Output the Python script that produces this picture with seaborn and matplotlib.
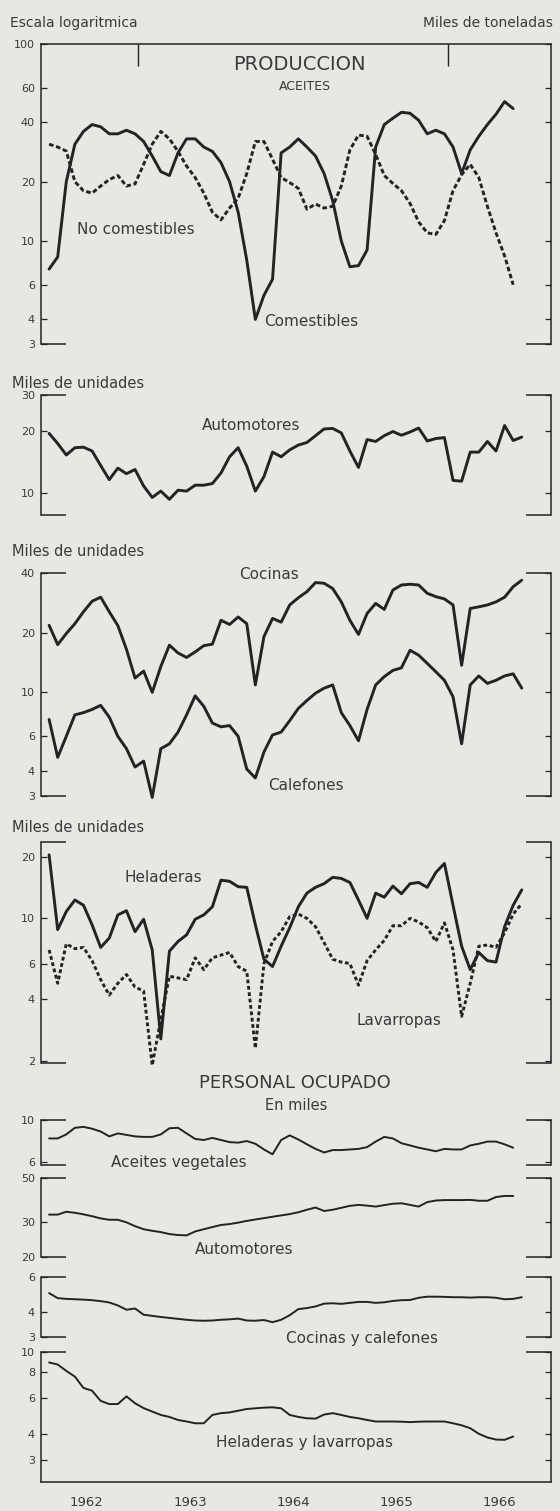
import numpy as np
import pandas as pd
import matplotlib
matplotlib.use("Agg")
import matplotlib.pyplot as plt
import matplotlib.ticker as mticker
import seaborn as sns

# ---------------- data (monthly observations, first one early 1962) ----------------
start_month = 1.6          # months after 1 Jan 1962 of the first observation
years = ["1962", "1963", "1964", "1965", "1966"]

# Produccion de aceites (miles de toneladas)
aceites_comestibles = [7.2, 8.3, 20, 31, 36, 39, 38, 35, 35, 36.5,
                       35, 32, 27, 22.5, 21.5, 28, 33, 33, 30, 28.5,
                       25, 20, 14, 8, 4.0, 5.3, 6.4, 28, 30, 33,
                       30, 27, 22, 16, 10, 7.4, 7.5, 9, 30, 39,
                       42, 45, 44.5, 41, 35, 36.5, 35, 30, 22, 29,
                       34, 39, 44, 51, 47]
aceites_no_comestibles = [31, 30, 28.6, 20, 18, 17.5, 19, 20.5, 21.5, 19,
                          19.5, 24.5, 31, 36, 33, 28.5, 24, 21, 17.5, 14,
                          12.8, 14.7, 16.5, 22, 32, 32, 26, 21, 19.8, 18.5,
                          14.5, 15.4, 14.7, 15, 19, 29, 34.5, 34, 27.5, 21.5,
                          19.6, 18, 15.5, 12.5, 11, 10.8, 12.7, 18, 21.7, 24.5,
                          21, 15, 11, 8.4, 6.0]
# Produccion (miles de unidades)
automotores = [19.5, 17.4, 15.3, 16.6, 16.7, 16, 13.6, 11.6, 13.2, 12.4,
               13, 10.8, 9.5, 10.2, 9.3, 10.3, 10.2, 10.9, 10.9, 11.1,
               12.5, 15, 16.6, 13.5, 10.2, 12, 15.8, 15, 16.2, 17.1,
               17.6, 19, 20.5, 20.6, 19.6, 16, 13.3, 18.2, 17.8, 19,
               19.9, 19.1, 19.8, 20.7, 17.9, 18.4, 18.6, 11.5, 11.4, 15.8,
               15.8, 17.8, 16, 21.3, 18, 18.7]
cocinas = [21.8, 17.4, 19.8, 22.2, 25.5, 28.8, 30.2, 25.5, 21.7, 16.5,
           11.8, 12.8, 10.0, 13.5, 17.3, 15.8, 15.0, 16.0, 17.2, 17.5,
           23.1, 22.0, 24, 22.2, 10.9, 19.1, 23.6, 22.6, 27.6, 30,
           32.2, 35.8, 35.5, 33.4, 28.6, 23.1, 19.6, 25, 28.1, 26.2,
           32.8, 34.8, 35.1, 34.8, 31.6, 30.4, 29.6, 27.6, 13.7, 26.5,
           27.0, 27.6, 28.6, 30.2, 34.1, 36.8]
calefones = [7.3, 4.7, 6.0, 7.7, 7.9, 8.2, 8.6, 7.5, 6.0, 5.2,
             4.2, 4.5, 2.95, 5.2, 5.5, 6.3, 7.7, 9.6, 8.5, 7.0,
             6.7, 6.8, 6.0, 4.1, 3.7, 5.0, 6.1, 6.3, 7.2, 8.3,
             9.1, 9.9, 10.5, 10.9, 7.9, 6.8, 5.7, 8.2, 10.9, 12.0,
             12.9, 13.3, 16.3, 15.4, 14.0, 12.7, 11.5, 9.5, 5.5, 10.9,
             12.1, 11.1, 11.5, 12.1, 12.4, 10.5]
heladeras = [20.5, 8.8, 10.8, 12.3, 11.6, 9.3, 7.2, 8.0, 10.4, 10.9,
             8.6, 9.9, 7.0, 2.56, 6.9, 7.7, 8.3, 9.9, 10.4, 11.4,
             15.4, 15.2, 14.3, 14.2, 9.3, 6.3, 5.8, 7.3, 9.0, 11.4,
             13.3, 14.2, 14.8, 15.9, 15.7, 15.0, 12.3, 10.0, 13.3, 12.7,
             14.4, 13.2, 14.8, 15.0, 14.2, 16.8, 18.6, 11.6, 7.3, 5.6,
             6.8, 6.2, 6.1, 9.1, 11.6, 13.8]
lavarropas = [7.0, 4.8, 7.5, 7.1, 7.2, 6.2, 5.0, 4.2, 4.8, 5.3,
              4.6, 4.4, 1.9, 3.2, 5.2, 5.1, 5.0, 6.4, 5.6, 6.4,
              6.6, 6.8, 5.8, 5.5, 2.3, 6.0, 7.7, 8.6, 10.2, 10.5,
              10.0, 9.1, 7.6, 6.3, 6.1, 6.0, 4.7, 6.2, 7.0, 7.8,
              9.2, 9.2, 10.0, 9.6, 9.0, 7.7, 9.5, 7.0, 3.3, 4.8,
              7.3, 7.4, 7.2, 8.5, 10.5, 11.8]
# Personal ocupado (miles)
pers_aceites = [8.0, 8.0, 8.4, 9.1, 9.2, 9.0, 8.7, 8.2, 8.5, 8.35,
                8.2, 8.15, 8.15, 8.4, 9.05, 9.1, 8.5, 7.95, 7.85, 8.05,
                7.85, 7.65, 7.6, 7.75, 7.5, 7.0, 6.6, 7.85, 8.3, 7.9,
                7.45, 7.05, 6.75, 6.95, 6.95, 7.0, 7.05, 7.2, 7.7, 8.15,
                8.0, 7.55, 7.35, 7.15, 7.0, 6.85, 7.05, 7.0, 7.0, 7.35,
                7.5, 7.7, 7.7, 7.45, 7.15]
pers_automotores = [32.7, 32.7, 33.8, 33.4, 32.8, 32.1, 31.3, 30.8, 30.8, 29.9,
                    28.6, 27.6, 27.1, 26.7, 26.1, 25.8, 25.7, 26.9, 27.6, 28.3,
                    29.0, 29.3, 29.8, 30.4, 30.9, 31.4, 31.9, 32.4, 32.9, 33.6,
                    34.6, 35.5, 34.1, 34.6, 35.4, 36.2, 36.6, 36.3, 35.9, 36.5,
                    37.1, 37.3, 36.6, 35.9, 37.8, 38.5, 38.7, 38.7, 38.7, 38.8,
                    38.4, 38.4, 40.1, 40.6, 40.6]
pers_cocinas_calefones = [4.98, 4.70, 4.66, 4.64, 4.62, 4.59, 4.54, 4.47, 4.32, 4.11,
                          4.17, 3.88, 3.83, 3.78, 3.74, 3.70, 3.66, 3.63, 3.62, 3.63,
                          3.66, 3.68, 3.71, 3.63, 3.62, 3.65, 3.56, 3.66, 3.86, 4.14,
                          4.19, 4.27, 4.41, 4.43, 4.40, 4.45, 4.50, 4.50, 4.45, 4.48,
                          4.55, 4.59, 4.60, 4.72, 4.78, 4.78, 4.77, 4.75, 4.75, 4.73,
                          4.75, 4.75, 4.72, 4.64, 4.66, 4.75]
pers_heladeras_lavarropas = [8.9, 8.7, 8.1, 7.6, 6.7, 6.5, 5.8, 5.6, 5.6, 6.1,
                             5.65, 5.35, 5.15, 4.96, 4.85, 4.69, 4.61, 4.52, 4.52, 4.96,
                             5.06, 5.1, 5.2, 5.3, 5.34, 5.38, 5.4, 5.34, 4.96, 4.85,
                             4.78, 4.76, 4.98, 5.06, 4.96, 4.85, 4.78, 4.69, 4.61, 4.61,
                             4.61, 4.6, 4.58, 4.6, 4.61, 4.61, 4.61, 4.52, 4.42, 4.28,
                             4.02, 3.86, 3.77, 3.76, 3.9]

# ---------------- style ----------------
sns.set_style("white")
plt.rcParams["font.family"] = ["DejaVu Sans"]

W, H = 560, 1511
fig = plt.figure(figsize=(W / 100, H / 100), dpi=100)
BG = "#e7e7e4"
INK = "#232323"
TXT = "#3a3a3a"
fig.patch.set_facecolor(BG)
XL, XR = 40.5, 551.0
STUB = 25 / (XR - XL)


def make_axes(top, bottom):
    ax = fig.add_axes([XL / W, 1 - bottom / H, (XR - XL) / W, (bottom - top) / H])
    ax.set_facecolor("none")
    return ax


def draw(ax, values, lw=2.0, ls="-"):
    df = pd.DataFrame({"mes": start_month + np.arange(len(values)), "valor": values})
    sns.lineplot(data=df, x="mes", y="valor", ax=ax, color=INK, lw=lw,
                 linestyle=ls, clip_on=False, solid_joinstyle="round")


def style(ax, ylim, ticks, top="stub", bottom="stub"):
    ax.set_yscale("log")
    ax.set_ylim(*ylim)
    ax.set_xlim(0.6, 60)
    ax.set_yticks(ticks, labels=[f"{t:g}" for t in ticks])
    ax.yaxis.set_minor_locator(mticker.NullLocator())
    ax.yaxis.set_minor_formatter(mticker.NullFormatter())
    ax.tick_params(axis="y", which="major", direction="in", length=4, width=0.9,
                   color=INK, left=True, right=True, labelleft=True,
                   labelright=False, labelsize=8, labelcolor=TXT, pad=4)
    ax.set_xlabel("")
    ax.set_ylabel("")
    for s in ["left", "right"]:
        ax.spines[s].set_visible(True)
        ax.spines[s].set_color(INK)
        ax.spines[s].set_linewidth(1.1)
    for s, mode, yy in [("top", top, 1), ("bottom", bottom, 0)]:
        if mode == "full":
            ax.spines[s].set_visible(True)
            ax.spines[s].set_color(INK)
            ax.spines[s].set_linewidth(1.1)
        else:
            ax.spines[s].set_visible(False)
            for x0, x1 in [(0, STUB), (1 - STUB, 1)]:
                ax.plot([x0, x1], [yy, yy], transform=ax.transAxes, color=INK,
                        lw=1.1, clip_on=False, solid_capstyle="butt")


def ftext(x, y, s, size, ha="left", **kw):
    fig.text(x / W, 1 - y / H, s, fontsize=size, ha=ha, va="center", color=TXT, **kw)


# ---- Panel 1: Aceites ----
ax1 = make_axes(44, 344)
draw(ax1, aceites_comestibles, lw=2.1)
draw(ax1, aceites_no_comestibles, lw=2.1, ls=(0, (1.6, 0.9)))
style(ax1, (3, 100), [3, 4, 6, 10, 20, 40, 60, 100], top="full")
ax1.xaxis.set_ticks_position("top")
ax1.set_xticks([12, 48])
ax1.tick_params(axis="x", direction="in", length=16, width=1.0, color=INK,
                labeltop=False, labelbottom=False)

# ---- Panel 2: Automotores ----
ax2 = make_axes(395, 515)
draw(ax2, automotores, lw=2.1)
style(ax2, (7.8, 30), [10, 20, 30])
ax2.set_xticks([])

# ---- Panel 3: Cocinas / Calefones ----
ax3 = make_axes(573, 796)
draw(ax3, cocinas, lw=2.1)
draw(ax3, calefones, lw=2.1)
style(ax3, (3, 40), [3, 4, 6, 10, 20, 40])
ax3.set_xticks([])

# ---- Panel 4: Heladeras / Lavarropas ----
ax4 = make_axes(842, 1063)
draw(ax4, heladeras, lw=2.1)
draw(ax4, lavarropas, lw=2.1, ls=(0, (1.3, 0.9)))
style(ax4, (1.95, 23.7), [2, 4, 6, 10, 20])
ax4.set_xticks([])

# ---- Panel 5-8: Personal ocupado ----
ax5 = make_axes(1120, 1165)
draw(ax5, pers_aceites, lw=1.4)
style(ax5, (5.8, 10), [6, 10])
ax5.set_xticks([])

ax6 = make_axes(1178, 1257)
draw(ax6, pers_automotores, lw=1.4)
style(ax6, (20, 50), [20, 30, 50])
ax6.set_xticks([])

ax7 = make_axes(1277, 1337)
draw(ax7, pers_cocinas_calefones, lw=1.4)
style(ax7, (3, 6), [3, 4, 6])
ax7.set_xticks([])

ax8 = make_axes(1352, 1482)
draw(ax8, pers_heladeras_lavarropas, lw=1.4)
style(ax8, (2.35, 10), [3, 4, 6, 8, 10], bottom="full")
ax8.set_xticks([12, 24, 36, 48])
ax8.set_xticks(np.arange(1, 60), minor=True)
ax8.tick_params(axis="x", which="major", direction="in", length=17, width=1.0,
                color=INK, labelbottom=False)
ax8.tick_params(axis="x", which="minor", direction="in", length=7, width=0.8,
                color=INK, labelbottom=False)
for i, yr in enumerate(years):
    ax8.text(6 + 12 * i, -20 / 130, yr, transform=ax8.get_xaxis_transform(),
             ha="center", va="center", fontsize=9.5, color=TXT)

# ---------------- texts ----------------
ftext(10, 23, "Escala logaritmica", 10)
ftext(553, 23, "Miles de toneladas", 10, ha="right")
ftext(299, 65, "PRODUCCION", 14)
fig.texts[-1].set_ha("center")
ftext(305, 86, "ACEITES", 9, ha="center")
ftext(77, 229, "No comestibles", 11)
ftext(264, 321, "Comestibles", 11)
ftext(12, 383, "Miles de unidades", 10.5)
ftext(202, 425, "Automotores", 11)
ftext(12, 552, "Miles de unidades", 10.5)
ftext(239, 575, "Cocinas", 11)
ftext(268, 785, "Calefones", 11)
ftext(12, 828, "Miles de unidades", 10.5)
ftext(125, 877, "Heladeras", 11)
ftext(357, 1020, "Lavarropas", 11)
ftext(295, 1083, "PERSONAL OCUPADO", 13, ha="center")
ftext(296, 1105, "En miles", 10.5, ha="center")
ftext(111, 1163, "Aceites vegetales", 11)
ftext(195, 1249, "Automotores", 11)
ftext(286, 1339, "Cocinas y calefones", 11)
ftext(216, 1442, "Heladeras y lavarropas", 11)

fig.savefig("out.png", dpi=100, facecolor=BG)
